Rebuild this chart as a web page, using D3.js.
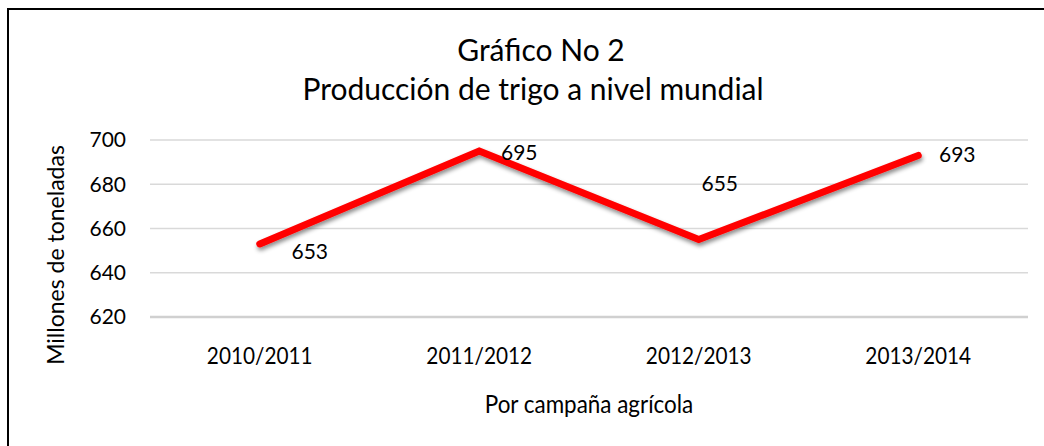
<!DOCTYPE html>
<html>
<head>
<meta charset="utf-8">
<script src="https://cdn.jsdelivr.net/npm/d3@7"></script>
<style>
  body { margin: 0; background: #fff; }
  text { font-family: Lato, "Open Sans", sans-serif; fill: #000; }
</style>
</head>
<body>
<div id="chart"></div>
<script>
// ---------- data ----------
var campaigns = ["2010/2011", "2011/2012", "2012/2013", "2013/2014"];
var production = [653, 695, 655, 693];
var yTicks = [620, 640, 660, 680, 700];
// label offsets (dx, dy) relative to each point, as placed in the original
var labelOffsets = [[50, 8], [40, 2], [21, -56], [39, -1]];

var svgWidth = 1044, svgHeight = 446;
var margin = { top: 140, right: 16, bottom: 129, left: 150 };
var width = svgWidth - margin.left - margin.right;
var height = svgHeight - margin.top - margin.bottom;

var svg = d3.select('#chart').append('svg')
    .attr('width', svgWidth)
    .attr('height', svgHeight);

// outer frame
svg.append('rect')
    .attr('x', 8).attr('y', 9)
    .attr('width', svgWidth + 10).attr('height', svgHeight + 10)
    .attr('fill', 'none').attr('stroke', '#000').attr('stroke-width', 2);

var defs = svg.append('defs');
var f = defs.append('filter').attr('id', 'shadow')
    .attr('x', '-10%').attr('y', '-20%').attr('width', '120%').attr('height', '160%');
f.append('feDropShadow').attr('dx', 1).attr('dy', 3).attr('stdDeviation', 2)
    .attr('flood-color', '#000').attr('flood-opacity', 0.45);

var g = svg.append('g').attr('transform', `translate(${margin.left},${margin.top})`);

// ---------- scales ----------
var x = d3.scaleBand().domain(campaigns).range([0, width]);
var y = d3.scaleLinear().domain([620, 700]).range([height, 0]);

// gridlines
g.selectAll('.grid').data(yTicks).enter().append('line')
    .attr('x1', 0).attr('x2', width)
    .attr('y1', d => y(d)).attr('y2', d => y(d))
    .attr('stroke', d => d === 620 ? '#d0d0d0' : '#d9d9d9')
    .attr('stroke-width', d => d === 620 ? 2.5 : 1.5);

// y tick labels
g.selectAll('.ytick').data(yTicks).enter().append('text')
    .attr('x', -24).attr('y', d => y(d))
    .attr('dy', '0.35em')
    .attr('text-anchor', 'end')
    .style('font-size', '21px')
    .text(d => d);

// x tick labels
g.selectAll('.xtick').data(campaigns).enter().append('text')
    .attr('transform', d => `translate(${x(d) + x.bandwidth() / 2},${height + 47}) scale(0.99,1.12)`)
    .attr('text-anchor', 'middle')
    .style('font-size', '21px')
    .text(d => d);

// line
var pts = campaigns.map((c, i) => [x(c) + x.bandwidth() / 2, y(production[i])]);
g.append('path')
    .attr('d', d3.line()(pts))
    .attr('fill', 'none')
    .attr('stroke', '#ff0000')
    .attr('stroke-width', 7)
    .attr('stroke-linecap', 'round')
    .attr('stroke-linejoin', 'miter')
    .attr('filter', 'url(#shadow)');

// data labels
g.selectAll('.lbl').data(production).enter().append('text')
    .attr('x', (d, i) => pts[i][0] + labelOffsets[i][0])
    .attr('y', (d, i) => pts[i][1] + labelOffsets[i][1])
    .attr('dy', '0.35em')
    .attr('text-anchor', 'middle')
    .style('font-size', '21px')
    .text(d => d);

// ---------- titles ----------
svg.append('text')
    .attr('x', 541).attr('y', 61)
    .attr('text-anchor', 'middle')
    .style('font-size', '30px')
    .text('Gráfico No 2');
svg.append('text')
    .attr('x', 533).attr('y', 100)
    .attr('text-anchor', 'middle')
    .style('font-size', '30px')
    .text('Producción de trigo a nivel mundial');

svg.append('text')
    .attr('transform', `translate(589,413) scale(1.02,1.14)`)
    .attr('text-anchor', 'middle')
    .style('font-size', '22px')
    .text('Por campaña agrícola');

svg.append('text')
    .attr('transform', 'translate(64,255) rotate(-90)')
    .attr('text-anchor', 'middle')
    .style('font-size', '23px')
    .text('Millones de toneladas');
</script>
</body>
</html>
